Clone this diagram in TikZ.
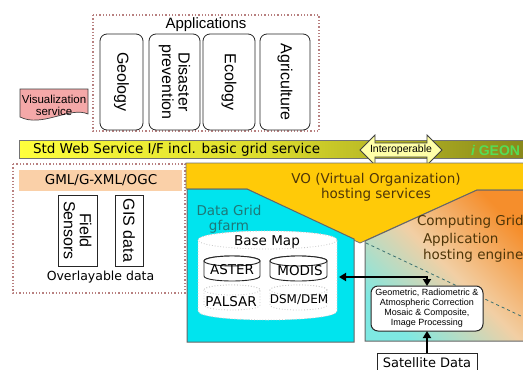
\documentclass[tikz,border=0pt]{standalone}
\usepackage{fontspec}
\setmainfont{Liberation Sans}
\newfontfamily\verd{DejaVu Sans}
\usetikzlibrary{arrows.meta}
\definecolor{dotc}{HTML}{B88080}
\definecolor{visfill}{HTML}{F4A8A8}
\definecolor{bandL}{HTML}{FFFF3C}
\definecolor{bandM}{HTML}{DADA2C}
\definecolor{bandR}{HTML}{86861A}
\definecolor{geon}{HTML}{55DD55}
\definecolor{peach}{HTML}{FAD0A8}
\definecolor{vo}{HTML}{FFCA08}
\definecolor{cyanbox}{HTML}{00E4EE}
\definecolor{compC}{HTML}{7EE8E2}
\definecolor{compM}{HTML}{F2CFA4}
\definecolor{compO}{HTML}{F58E2C}
\definecolor{tealtxt}{HTML}{1E7878}
\definecolor{browntxt}{HTML}{4E3508}
\definecolor{dashc}{HTML}{3A7070}
\definecolor{interfill}{HTML}{FFFFA8}
\newcommand{\dbcyl}[6]{%
  \path[#1] (#2,#3+#6) -- (#2,#5-#6) .. controls (#2,#5+#6/3) and (#4,#5+#6/3) .. (#4,#5-#6) -- (#4,#3+#6) .. controls (#4,#3-#6/3) and (#2,#3-#6/3) .. cycle;
  \path[#1] ({(#2+#4)/2},#3+#6) ellipse [x radius={(#4-#2)/2}, y radius=#6];
}
\tikzset{
  dotbox/.style={draw=dotc, dotted, line width=1.3pt},
  appbox/.style={draw=black!85, line width=0.8pt, rounded corners=7pt, fill=white, rotate=-90, align=center, font=\fontsize{16}{16.5}\selectfont, minimum width=96pt},
  vbox/.style={draw=black!85, line width=0.8pt, fill=white, rotate=-90, align=center, font=\fontsize{16}{16}\selectfont, minimum width=71pt},
  vt/.style={font=\verd\fontsize{13.5}{15}\selectfont},
  arr/.style={line width=2pt, black},
}
\begin{document}
\begin{tikzpicture}[x=1pt,y=-1pt, every node/.style={inner sep=0pt, outer sep=0pt}]
\useasboundingbox (0,0) rectangle (523,370);
\clip (0,0) rectangle (523,370);
\fill[white] (0,0) rectangle (523,370);

% Applications
\draw[dotbox] (93,15) rectangle (319,131);
\node[font=\fontsize{15}{17}\selectfont] (apptitle) at (206,25) {Applications};
\node[appbox, minimum height=43pt] (geo) at (121.5,82) {Geology};
\node[appbox, minimum height=51pt] (dis) at (174.5,82) {Disaster\\prevention};
\node[appbox, minimum height=52pt] (eco) at (229,82) {Ecology};
\node[appbox, minimum height=50pt] (agr) at (285,82) {Agriculture};

% Visualization service
\path[draw=black!75, line width=0.7pt, fill=visfill] (20,89) -- (88,89) -- (88,114) .. controls (70,106) and (42,128) .. (20,117) -- cycle;
\node[align=center, font=\fontsize{11.5}{12}\selectfont] (vis) at (54,105) {Visualization\\service};

% band
\shadedraw[draw=black!55, line width=0.8pt, left color=bandL, right color=bandR, middle color=bandM] (19,140) rectangle (530,158);
\node[anchor=west, vt] (std) at (33,149.5) {Std Web Service I/F incl. basic grid service};
\path[draw=black!75, line width=0.8pt, fill=interfill] (360,150) -- (375,135) -- (375,143) -- (427,143) -- (427,135) -- (442,150) -- (427,165) -- (427,157) -- (375,157) -- (375,165) -- cycle;
\node[font=\fontsize{10.5}{12}\selectfont] (interop) at (401,150) {Interoperable};
\node[anchor=west, text=geon, font=\bfseries\fontsize{14}{16}\selectfont] (geonn) at (471,150) {\itshape i\upshape\ GEON};

% Overlayable data
\draw[dotbox] (13,164) rectangle (185,293);
\fill[peach] (19,170) rectangle (182,191);
\node[font=\verd\fontsize{13.5}{15}\selectfont] (gml) at (101,180.5) {GML/G-XML/OGC};
\node[vbox, minimum height=39pt] (field) at (77.5,230.5) {Field\\Sensors};
\node[vbox, minimum height=28pt] (gis) at (129,230.5) {GIS data};
\node[font=\verd\fontsize{12.5}{14}\selectfont] (overlay) at (100.5,277) {Overlayable data};

% VO
\path[fill=vo, draw=black!55, line width=0.8pt] (186,163) -- (540,163) -- (540,190) -- (477,190) -- (360,243) -- (247,189) -- (186,189) -- cycle;
\node[vt, align=center, text=browntxt] (vot) at (376,187) {VO (Virtual Organization)\\hosting services};

% Data grid
\path[fill=cyanbox, draw=black!60, line width=1pt] (187,189) -- (247,189) -- (354,239) -- (354,342) -- (187,342) -- cycle;
\node[vt, align=center, text=tealtxt] (dg) at (229,219) {Data Grid\\gfarm};

% Computing grid
\shadedraw[draw=black!60, line width=1pt, top color=compO, bottom color=compC, middle color=compM, shading angle=-45] (365,241) -- (477,190) -- (526,190) -- (526,341) -- (365,341) -- cycle;
\draw[dashc, dashed, line width=0.8pt] (366,243) -- (540,325);
\node[vt, anchor=west, text=browntxt] (cg) at (417,222) {Computing Grid};
\node[vt, anchor=west, align=left, text=browntxt, font=\verd\fontsize{13.5}{15.5}\selectfont] (app) at (423,248) {Application\\hosting engine};

% Base map cylinders
\dbcyl{fill=white, draw=gray!45, dotted, line width=0.8pt}{198}{231}{337}{320}{9}
\node[vt] (bm) at (267,242) {Base Map};
\dbcyl{fill=white, draw=black!85, line width=0.9pt}{204}{256}{260}{281}{5}
\node[vt] (aster) at (232,270) {ASTER};
\dbcyl{fill=white, draw=black!85, line width=0.9pt}{270}{256}{327}{281}{5}
\node[vt] (modis) at (300,271) {MODIS};
\dbcyl{fill=white, draw=gray!45, dotted, line width=0.8pt}{204}{285}{260}{310}{5}
\node[vt] (palsar) at (231,302) {PALSAR};
\dbcyl{fill=white, draw=gray!45, dotted, line width=0.8pt}{270}{285}{327}{310}{5}
\node[font=\verd\fontsize{12}{14}\selectfont] (dsm) at (299,300) {DSM/DEM};
\coordinate (bmE) at (339,277);

% Processing
\node[draw=black!85, line width=1pt, rounded corners=7pt, fill=white, minimum width=112pt, minimum height=45pt, align=center, font=\fontsize{9}{10}\selectfont] (proc) at (427,308.5) {Geometric, Radiometric \&\\Atmospheric Correction\\Mosaic \& Composite,\\Image Processing};
\node[draw=black!85, line width=0.9pt, fill=white, minimum width=100pt, minimum height=26pt] (sat) at (427,366) {};
\node[font=\verd\fontsize{13}{15}\selectfont] (satt) at (427,363) {Satellite Data};

\draw[arr, {Triangle[length=7pt,width=8pt]}-{Triangle[length=7pt,width=8pt]}] (proc.north) |- (bmE);
\draw[arr, -{Triangle[length=7pt,width=8pt]}] (sat.north) -- (proc.south);
\end{tikzpicture}
\end{document}
